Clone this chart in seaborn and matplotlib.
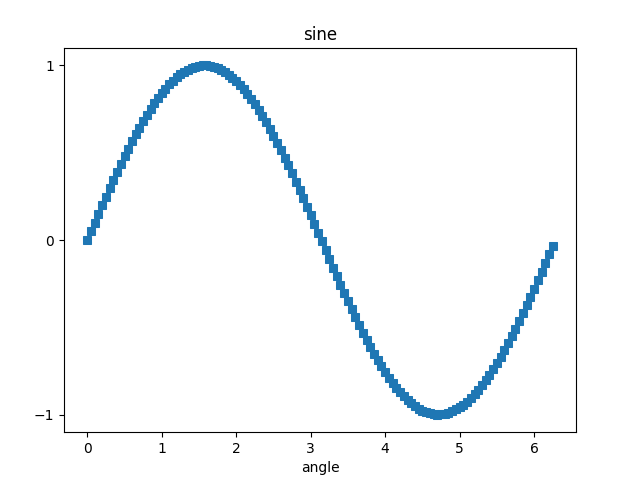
import matplotlib
matplotlib.use("Agg")
import matplotlib.pyplot as plt
import seaborn as sns

# === Data ===
angle = [
    0.00, 0.05, 0.10, 0.15, 0.20, 0.25, 0.30, 0.35, 0.40, 0.45,
    0.50, 0.55, 0.60, 0.65, 0.70, 0.75, 0.80, 0.85, 0.90, 0.95,
    1.00, 1.05, 1.10, 1.15, 1.20, 1.25, 1.30, 1.35, 1.40, 1.45,
    1.50, 1.55, 1.60, 1.65, 1.70, 1.75, 1.80, 1.85, 1.90, 1.95,
    2.00, 2.05, 2.10, 2.15, 2.20, 2.25, 2.30, 2.35, 2.40, 2.45,
    2.50, 2.55, 2.60, 2.65, 2.70, 2.75, 2.80, 2.85, 2.90, 2.95,
    3.00, 3.05, 3.10, 3.15, 3.20, 3.25, 3.30, 3.35, 3.40, 3.45,
    3.50, 3.55, 3.60, 3.65, 3.70, 3.75, 3.80, 3.85, 3.90, 3.95,
    4.00, 4.05, 4.10, 4.15, 4.20, 4.25, 4.30, 4.35, 4.40, 4.45,
    4.50, 4.55, 4.60, 4.65, 4.70, 4.75, 4.80, 4.85, 4.90, 4.95,
    5.00, 5.05, 5.10, 5.15, 5.20, 5.25, 5.30, 5.35, 5.40, 5.45,
    5.50, 5.55, 5.60, 5.65, 5.70, 5.75, 5.80, 5.85, 5.90, 5.95,
    6.00, 6.05, 6.10, 6.15, 6.20, 6.25,
]
sine = [
    0.000, 0.050, 0.100, 0.149, 0.199, 0.247, 0.296, 0.343, 0.389, 0.435,
    0.479, 0.523, 0.565, 0.605, 0.644, 0.682, 0.717, 0.751, 0.783, 0.813,
    0.841, 0.867, 0.891, 0.913, 0.932, 0.949, 0.964, 0.976, 0.985, 0.993,
    0.997, 1.000, 1.000, 0.997, 0.992, 0.984, 0.974, 0.961, 0.946, 0.929,
    0.909, 0.887, 0.863, 0.837, 0.808, 0.778, 0.746, 0.711, 0.675, 0.638,
    0.598, 0.558, 0.516, 0.472, 0.427, 0.382, 0.335, 0.287, 0.239, 0.190,
    0.141, 0.092, 0.042, -0.008, -0.058, -0.108, -0.158, -0.207, -0.256, -0.304,
    -0.351, -0.397, -0.443, -0.487, -0.530, -0.572, -0.612, -0.651, -0.688, -0.723,
    -0.757, -0.788, -0.818, -0.846, -0.872, -0.895, -0.916, -0.935, -0.952, -0.966,
    -0.978, -0.987, -0.994, -0.998, -1.000, -0.999, -0.996, -0.990, -0.982, -0.971,
    -0.959, -0.944, -0.926, -0.906, -0.883, -0.859, -0.832, -0.804, -0.773, -0.740,
    -0.706, -0.670, -0.631, -0.592, -0.551, -0.508, -0.465, -0.420, -0.374, -0.327,
    -0.279, -0.231, -0.182, -0.133, -0.083, -0.033,
]
y_ticks = [-1, 0, 1]

# === Plot ===
fig, ax = plt.subplots(figsize=(6.4, 4.8), dpi=100)
fig.subplots_adjust(left=0.1, right=0.9, top=0.9, bottom=0.1)
sns.lineplot(x=angle, y=sine, ax=ax, marker='s', linestyle='',
             markersize=6, color='#1f77b4', markeredgecolor='#1f77b4')
ax.set_yticks(y_ticks)
ax.set_title("sine")
ax.set_xlabel("angle")
plt.savefig("out.png", dpi=100)
